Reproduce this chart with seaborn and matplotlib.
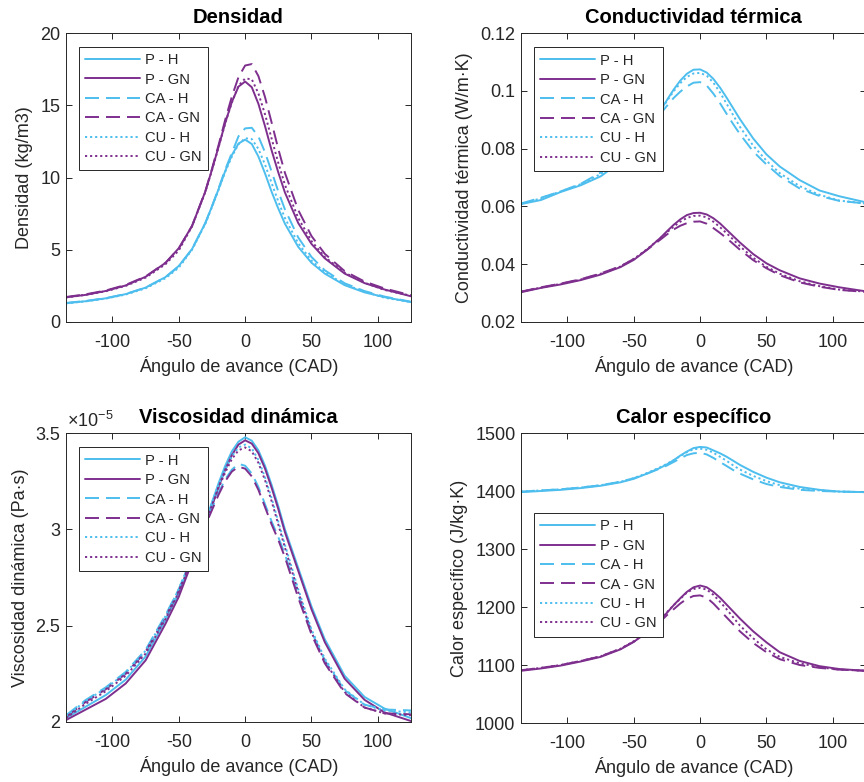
import matplotlib
matplotlib.use("Agg")
import matplotlib.pyplot as plt
import seaborn as sns
import pandas as pd
from matplotlib.ticker import FuncFormatter

# ---------------- data ----------------
cad = [-135, -120, -105, -90, -75, -60, -50, -40, -30, -25, -20, -15, -10, -5, 0,
       5, 10, 15, 20, 25, 30, 40, 50, 60, 75, 90, 105, 125]
series_names = ["P - H", "P - GN", "CA - H", "CA - GN", "CU - H", "CU - GN"]

dens_P_H = [1.30, 1.44, 1.64, 1.93, 2.38, 3.11, 3.88, 5.05, 6.85, 8.00, 9.20, 10.45, 11.55, 12.35, 12.62,
            12.32, 11.45, 10.28, 9.00, 7.85, 6.80, 5.20, 4.10, 3.35, 2.55, 2.05, 1.72, 1.38]
dens_P_GN = [1.71, 1.88, 2.15, 2.53, 3.13, 4.09, 5.11, 6.65, 9.03, 10.54, 12.13, 13.78, 15.23, 16.29, 16.64,
             16.25, 15.10, 13.55, 11.86, 10.35, 8.96, 6.85, 5.40, 4.41, 3.35, 2.69, 2.25, 1.78]
dens_CA_H = [1.32, 1.46, 1.65, 1.94, 2.38, 3.10, 3.84, 5.05, 6.85, 8.00, 9.25, 10.55, 11.70, 12.85, 13.40,
             13.44, 12.84, 11.74, 10.40, 9.03, 7.79, 5.85, 4.50, 3.58, 2.68, 2.14, 1.76, 1.40]
dens_CA_GN = [1.73, 1.92, 2.18, 2.57, 3.15, 4.10, 5.08, 6.65, 9.05, 10.60, 12.25, 14.00, 15.60, 16.95, 17.75,
              17.85, 17.02, 15.56, 13.79, 11.97, 10.32, 7.75, 5.95, 4.72, 3.52, 2.80, 2.32, 1.85]
dens_CU_H = [1.29, 1.43, 1.62, 1.90, 2.33, 3.03, 3.76, 5.00, 6.80, 7.95, 9.15, 10.40, 11.45, 12.30, 12.72,
             12.66, 11.98, 10.89, 9.61, 8.34, 7.19, 5.45, 4.25, 3.45, 2.60, 2.10, 1.68, 1.38]
dens_CU_GN = [1.70, 1.88, 2.13, 2.50, 3.07, 4.00, 4.95, 6.62, 9.00, 10.50, 12.10, 13.75, 15.20, 16.35, 16.85,
              16.80, 15.82, 14.37, 12.68, 11.01, 9.49, 7.20, 5.60, 4.50, 3.42, 2.72, 2.22, 1.82]

cond_P_H = [0.0608, 0.0622, 0.0650, 0.0673, 0.0704, 0.0754, 0.0801, 0.0861, 0.0931, 0.0968, 0.1004, 0.1035, 0.1059, 0.1073, 0.1074,
            0.1063, 0.1041, 0.1011, 0.0976, 0.0939, 0.0902, 0.0835, 0.0780, 0.0738, 0.0691, 0.0655, 0.0635, 0.0614]
cond_P_GN = [0.0303, 0.0318, 0.0330, 0.0345, 0.0364, 0.0390, 0.0415, 0.0450, 0.0491, 0.0514, 0.0536, 0.0555, 0.0570, 0.0577, 0.0578,
             0.0572, 0.0559, 0.0541, 0.0519, 0.0497, 0.0475, 0.0435, 0.0403, 0.0379, 0.0351, 0.0333, 0.0320, 0.0306]
cond_CA_H = [0.0610, 0.0630, 0.0652, 0.0678, 0.0717, 0.0762, 0.0805, 0.0856, 0.0920, 0.0948, 0.0975, 0.0997, 0.1015, 0.1028, 0.1030,
             0.1018, 0.0990, 0.0957, 0.0920, 0.0884, 0.0850, 0.0790, 0.0745, 0.0705, 0.0662, 0.0636, 0.0619, 0.0610]
cond_CA_GN = [0.0305, 0.0320, 0.0333, 0.0348, 0.0368, 0.0393, 0.0418, 0.0450, 0.0485, 0.0503, 0.0520, 0.0533, 0.0542, 0.0547, 0.0548,
              0.0540, 0.0525, 0.0508, 0.0490, 0.0470, 0.0450, 0.0414, 0.0386, 0.0362, 0.0337, 0.0322, 0.0311, 0.0304]
cond_CU_H = [0.0608, 0.0628, 0.0652, 0.0677, 0.0712, 0.0760, 0.0806, 0.0864, 0.0930, 0.0965, 0.0998, 0.1026, 0.1048, 0.1060, 0.1062,
             0.1052, 0.1028, 0.0994, 0.0955, 0.0915, 0.0875, 0.0810, 0.0758, 0.0715, 0.0670, 0.0640, 0.0620, 0.0610]
cond_CU_GN = [0.0305, 0.0319, 0.0332, 0.0347, 0.0367, 0.0392, 0.0418, 0.0452, 0.0490, 0.0510, 0.0530, 0.0547, 0.0560, 0.0567, 0.0568,
              0.0562, 0.0547, 0.0528, 0.0507, 0.0485, 0.0462, 0.0422, 0.0391, 0.0367, 0.0341, 0.0324, 0.0312, 0.0305]

# viscosity in units of 1e-5 Pa·s
visc_P_H = [2.02, 2.08, 2.14, 2.22, 2.34, 2.53, 2.67, 2.85, 3.04, 3.14, 3.24, 3.33, 3.405, 3.455, 3.478,
            3.46, 3.41, 3.33, 3.23, 3.12, 3.00, 2.80, 2.60, 2.43, 2.24, 2.13, 2.07, 2.02]
visc_P_GN = [2.01, 2.065, 2.12, 2.20, 2.32, 2.51, 2.65, 2.83, 3.02, 3.12, 3.22, 3.31, 3.385, 3.44, 3.462,
             3.445, 3.395, 3.315, 3.215, 3.105, 2.985, 2.785, 2.585, 2.415, 2.225, 2.115, 2.05, 2.005]
visc_CA_H = [2.035, 2.115, 2.18, 2.26, 2.375, 2.555, 2.69, 2.86, 3.03, 3.11, 3.19, 3.26, 3.31, 3.34, 3.33,
             3.29, 3.22, 3.13, 3.04, 2.96, 2.87, 2.66, 2.47, 2.32, 2.165, 2.09, 2.065, 2.06]
visc_CA_GN = [2.025, 2.105, 2.17, 2.25, 2.365, 2.545, 2.68, 2.85, 3.02, 3.10, 3.18, 3.25, 3.30, 3.325, 3.315,
              3.275, 3.205, 3.115, 3.025, 2.945, 2.855, 2.645, 2.455, 2.305, 2.15, 2.075, 2.045, 2.04]
visc_CU_H = [2.03, 2.11, 2.175, 2.255, 2.37, 2.55, 2.69, 2.86, 3.04, 3.14, 3.23, 3.31, 3.38, 3.425, 3.44,
             3.42, 3.36, 3.27, 3.16, 3.04, 2.92, 2.69, 2.48, 2.33, 2.17, 2.09, 2.06, 2.05]
visc_CU_GN = [2.02, 2.095, 2.16, 2.24, 2.355, 2.535, 2.675, 2.845, 3.025, 3.125, 3.215, 3.295, 3.365, 3.41, 3.425,
              3.405, 3.345, 3.255, 3.145, 3.025, 2.905, 2.675, 2.465, 2.315, 2.155, 2.075, 2.045, 2.035]

cp_P_H = [1398, 1400, 1402, 1405, 1409, 1415, 1421, 1430, 1440, 1446, 1453, 1461, 1468, 1474, 1476,
          1475, 1470, 1465, 1459, 1452, 1445, 1433, 1423, 1415, 1407, 1402, 1399, 1398]
cp_P_GN = [1090, 1094, 1099, 1106, 1114, 1127, 1140, 1156, 1178, 1190, 1203, 1215, 1226, 1234, 1237,
           1234, 1226, 1216, 1204, 1192, 1180, 1158, 1139, 1122, 1107, 1098, 1093, 1090]
cp_CA_H = [1399, 1401, 1403, 1406, 1410, 1416, 1422, 1430, 1439, 1444, 1450, 1456, 1462, 1465, 1466,
           1463, 1457, 1450, 1443, 1436, 1430, 1420, 1412, 1407, 1402, 1400, 1399, 1398]
cp_CA_GN = [1091, 1095, 1100, 1107, 1115, 1128, 1140, 1155, 1175, 1186, 1196, 1206, 1214, 1219, 1220,
            1216, 1206, 1194, 1182, 1170, 1158, 1138, 1122, 1110, 1100, 1095, 1092, 1090]
cp_CU_H = [1399, 1401, 1403, 1406, 1410, 1416, 1422, 1431, 1441, 1447, 1453, 1460, 1467, 1472, 1473,
           1471, 1466, 1459, 1452, 1444, 1437, 1426, 1417, 1410, 1404, 1401, 1399, 1398]
cp_CU_GN = [1091, 1095, 1100, 1107, 1115, 1128, 1141, 1157, 1179, 1191, 1203, 1214, 1225, 1231, 1233,
            1230, 1221, 1209, 1196, 1182, 1168, 1146, 1127, 1114, 1103, 1096, 1092, 1090]

# ---------------- style ----------------
sns.set_theme(style="ticks")
plt.rcParams["font.family"] = ["Liberation Sans", "DejaVu Sans"]
plt.rcParams["axes.unicode_minus"] = False
plt.rcParams["mathtext.fontset"] = "custom"
plt.rcParams["mathtext.rm"] = "Liberation Sans"
plt.rcParams["mathtext.it"] = "Liberation Sans:italic"

CYAN = "#4DBEEE"
PURPLE = "#7E2F8E"
AXC = "#262626"
LW = 1.4
DASH = (0, (7.2, 3.6))
DOT = (0, (1.1, 1.5))
styles = {
    "P - H": (CYAN, "-"),
    "P - GN": (PURPLE, "-"),
    "CA - H": (CYAN, DASH),
    "CA - GN": (PURPLE, DASH),
    "CU - H": (CYAN, DOT),
    "CU - GN": (PURPLE, DOT),
}

W, H = 864, 782
fig = plt.figure(figsize=(W / 100, H / 100), dpi=100)

def add_ax(x0, y0, x1, y1):
    return fig.add_axes([x0 / W, (H - y1) / H, (x1 - x0) / W, (y1 - y0) / H])

FS = 13.0
panels = [
    dict(box=(66, 33, 411, 322), title="Densidad", ylabel="Densidad (kg/m3)",
         data=[dens_P_H, dens_P_GN, dens_CA_H, dens_CA_GN, dens_CU_H, dens_CU_GN],
         ylim=(0, 20), yticks=[0, 5, 10, 15, 20], leg=(0.038, 0.952)),
    dict(box=(521, 33, 866, 322), title="Conductividad térmica", ylabel="Conductividad térmica (W/m·K)",
         data=[cond_P_H, cond_P_GN, cond_CA_H, cond_CA_GN, cond_CU_H, cond_CU_GN],
         ylim=(0.02, 0.12), yticks=[0.02, 0.04, 0.06, 0.08, 0.1, 0.12], leg=(0.038, 0.950)),
    dict(box=(66, 433, 411, 722), title="Viscosidad dinámica", ylabel="Viscosidad dinámica (Pa·s)",
         data=[visc_P_H, visc_P_GN, visc_CA_H, visc_CA_GN, visc_CU_H, visc_CU_GN],
         ylim=(2, 3.5), yticks=[2, 2.5, 3, 3.5], leg=(0.038, 0.950)),
    dict(box=(521, 433, 866, 723), title="Calor específico", ylabel="Calor específico (J/kg·K)",
         data=[cp_P_H, cp_P_GN, cp_CA_H, cp_CA_GN, cp_CU_H, cp_CU_GN],
         ylim=(1000, 1500), yticks=[1000, 1100, 1200, 1300, 1400, 1500], leg=(0.038, 0.724)),
]

for p in panels:
    ax = add_ax(*p["box"])
    for name, vals in zip(series_names, p["data"]):
        col, ls = styles[name]
        df = pd.DataFrame({"cad": cad, "val": vals})
        sns.lineplot(data=df, x="cad", y="val", ax=ax, color=col, linestyle=ls,
                     linewidth=LW, label=name, legend=False)
    ax.set_xlim(-135, 125)
    ax.set_ylim(*p["ylim"])
    ax.set_xticks([-100, -50, 0, 50, 100])
    ax.set_yticks(p["yticks"])
    ax.yaxis.set_major_formatter(FuncFormatter(lambda v, _: f"{v:g}"))
    ax.xaxis.set_major_formatter(FuncFormatter(lambda v, _: f"{v:g}"))
    ax.tick_params(direction="in", top=True, right=True, length=4.5, width=0.7,
                   labelsize=FS, colors=AXC)
    ax.tick_params(axis="x", pad=8.5)
    ax.tick_params(axis="y", pad=4)
    for s in ax.spines.values():
        s.set_visible(True)
        s.set_color(AXC)
        s.set_linewidth(0.7)
    ax.set_title(p["title"], fontsize=14.5, fontweight="bold", color="black", pad=7)
    ax.set_xlabel("Ángulo de avance (CAD)", fontsize=FS, color=AXC, labelpad=4)
    ax.set_ylabel(p["ylabel"], fontsize=FS, color=AXC, labelpad=5)
    leg = ax.legend(loc="upper left", bbox_to_anchor=p["leg"], fontsize=10.6,
                    frameon=True, fancybox=False, framealpha=1, edgecolor=AXC,
                    handlelength=3.7, handletextpad=0.34, labelspacing=0.37,
                    borderpad=0.42, borderaxespad=0)
    leg.get_frame().set_linewidth(0.7)
    if p["title"] == "Viscosidad dinámica":
        ax.text(0.003, 1.008, r"$\times10^{-5}$", transform=ax.transAxes,
                fontsize=FS, color=AXC, va="bottom", ha="left")

fig.savefig("out.png", dpi=100)
